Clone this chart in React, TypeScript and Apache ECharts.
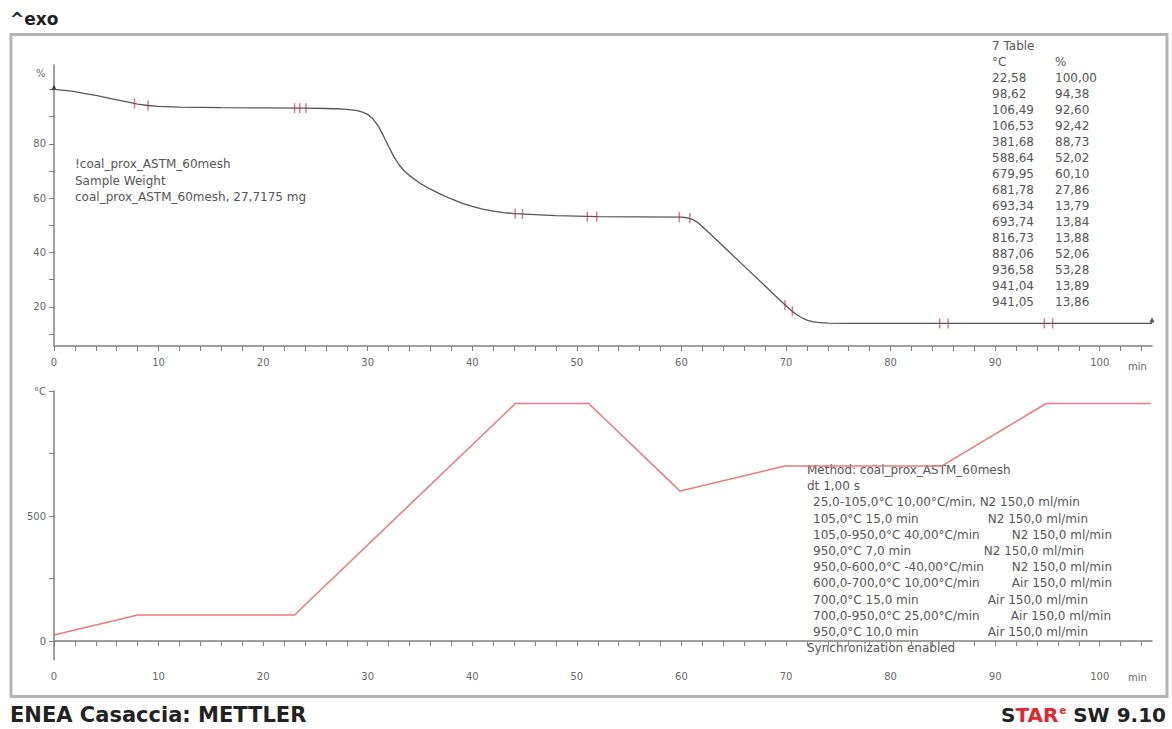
import React, { useEffect, useRef } from "react";
import * as echarts from "echarts";

// ---- data ----
const weightTime = [0, 1, 2, 3, 4, 5, 6, 7, 8, 9, 10, 12, 16, 20, 24, 26, 27, 28, 28.5, 29, 29.5, 30, 30.5, 31, 31.5, 32, 32.5, 33, 33.5, 34, 35, 36, 37, 38, 39, 40, 41, 42, 43, 44, 48, 52, 56, 60, 60.5, 61, 61.5, 62, 64, 66, 68, 69, 70, 70.5, 71, 71.5, 72, 72.5, 73, 74, 76, 85, 95, 105];
const weightPct = [100, 99.7, 99.2, 98.5, 97.8, 97.0, 96.2, 95.4, 94.6, 94.1, 93.8, 93.5, 93.3, 93.2, 93.1, 93.0, 92.9, 92.7, 92.5, 92.2, 91.7, 90.8, 89.2, 86.6, 83.0, 79.0, 75.3, 72.3, 70.0, 68.3, 65.5, 63.3, 61.4, 59.7, 58.2, 57.0, 56.0, 55.2, 54.7, 54.3, 53.6, 53.2, 53.1, 53.0, 52.8, 52.3, 51.2, 49.6, 42.3, 35.0, 27.7, 24.0, 20.4, 18.7, 17.2, 16.0, 15.1, 14.6, 14.3, 14.05, 13.95, 13.9, 13.9, 13.9];

const tempTime = [0, 8, 23, 44.125, 51.125, 59.875, 69.875, 84.875, 94.875, 104.875];
const tempC = [25, 105, 105, 950, 950, 600, 700, 700, 950, 950];

const markerTime = [7.7, 9.0, 23.0, 23.5, 24.1, 44.1, 44.8, 51.0, 51.9, 59.8, 60.8, 69.9, 70.6, 84.7, 85.5, 94.7, 95.5];
const markerPct = [94.8, 94.1, 93.1, 93.1, 93.1, 54.3, 54.2, 53.2, 53.2, 53.0, 52.7, 20.7, 18.4, 13.9, 13.9, 13.9, 13.9];

const endTime = [0, 105];
const endPct = [100.8, 15.2];

const tableTitle = "7 Table";
const tableHead = ["°C", "%"];
const tableTemp = ["22,58", "98,62", "106,49", "106,53", "381,68", "588,64", "679,95", "681,78", "693,34", "693,74", "816,73", "887,06", "936,58", "941,04", "941,05"];
const tablePct = ["100,00", "94,38", "92,60", "92,42", "88,73", "52,02", "60,10", "27,86", "13,79", "13,84", "13,88", "52,06", "53,28", "13,89", "13,86"];

const sampleLines = ["!coal_prox_ASTM_60mesh", "Sample Weight", "coal_prox_ASTM_60mesh, 27,7175 mg"];

const methodTop = ["Method: coal_prox_ASTM_60mesh", "dt 1,00 s"];
const methodSteps = [
  "25,0-105,0°C 10,00°C/min, N2 150,0 ml/min",
  "105,0°C 15,0 min",
  "105,0-950,0°C 40,00°C/min",
  "950,0°C 7,0 min",
  "950,0-600,0°C -40,00°C/min",
  "600,0-700,0°C 10,00°C/min",
  "700,0°C 15,0 min",
  "700,0-950,0°C 25,00°C/min",
  "950,0°C 10,0 min",
];
const methodGas = ["", "N2 150,0 ml/min", "N2 150,0 ml/min", "N2 150,0 ml/min", "N2 150,0 ml/min", "Air 150,0 ml/min", "Air 150,0 ml/min", "Air 150,0 ml/min", "Air 150,0 ml/min"];
const methodEnd = "Synchronization enabled";

const timeLabels = [0, 10, 20, 30, 40, 50, 60, 70, 80, 90, 100];
const timeTicks = [0, 2, 4, 6, 8, 10, 12, 14, 16, 18, 20, 22, 24, 26, 28, 30, 32, 34, 36, 38, 40, 42, 44, 46, 48, 50, 52, 54, 56, 58, 60, 62, 64, 66, 68, 70, 72, 74, 76, 78, 80, 82, 84, 86, 88, 90, 92, 94, 96, 98, 100, 102, 104];
const pctTicks = [10, 20, 30, 40, 50, 60, 70, 80, 90, 100];
const pctLabels = [20, 40, 60, 80];
const tempTicks = [0, 250, 500, 750, 1000];
const tempLabels = [0, 500, 1000];

// ---- layout / style ----
const FONT = "DejaVu Sans";
const TXT = "#555";
const gasRight = [0, 1088, 1112, 1084, 1112, 1112, 1088, 1111, 1088];

export default function App() {
  const ref = useRef<HTMLDivElement>(null);
  useEffect(() => {
    if (!ref.current) return;
    const chart = echarts.init(ref.current, undefined, { renderer: "svg" });
    const axisLine = { show: true, lineStyle: { color: "#808080", width: 1.5 } };
    const xAxisBase = (gridIndex: number) => ({
      type: "value",
      gridIndex,
      min: 0,
      max: 105,
      interval: 10,
      axisLine,
      axisTick: { show: true, length: 5, customValues: timeTicks, lineStyle: { color: "#808080" } },
      axisLabel: { customValues: timeLabels, color: "#666", fontSize: 10, fontFamily: FONT, margin: 11 },
      splitLine: { show: false },
    });
    const txt = (x: number, y: number, text: string, extra: any = {}) => ({
      type: "text",
      x,
      y,
      silent: true,
      style: { text, fill: TXT, font: `12px "${FONT}"`, textVerticalAlign: "middle", ...extra },
    });
    const graphics: any[] = [
      { type: "rect", shape: { x: 11, y: 34.5, width: 1156, height: 662 }, style: { fill: "none", stroke: "#b4b4b4", lineWidth: 3 }, silent: true },
      txt(10, 19, "^exo", { fill: "#222", font: `bold 17px "${FONT}"` }),
      txt(10, 715, "ENEA Casaccia: METTLER", { fill: "#222", font: `bold 21px "${FONT}"` }),
      {
        type: "text",
        x: 1166,
        y: 715,
        silent: true,
        style: {
          text: "{a|S}{b|TAR}{c|e}{a| SW 9.10}",
          textAlign: "right",
          textVerticalAlign: "middle",
          rich: {
            a: { fill: "#222", font: `bold 20px "${FONT}"` },
            b: { fill: "#e0282e", font: `bold 20px "${FONT}"` },
            c: { fill: "#e0282e", font: `bold 10px "${FONT}"`, verticalAlign: "top", padding: [0, 0, 10, 1] },
          },
        },
      },
      txt(36, 73, "%", { fill: "#666", font: `10px "${FONT}"` }),
      txt(1128, 366, "min", { fill: "#666", font: `10px "${FONT}"` }),
      txt(1128, 677, "min", { fill: "#666", font: `10px "${FONT}"` }),
      txt(992, 46, tableTitle),
      txt(992, 62, tableHead[0]),
      txt(1055, 62, tableHead[1]),
    ];
    tableTemp.forEach((t, i) => {
      graphics.push(txt(992, 78 + i * 16, t));
      graphics.push(txt(1055, 78 + i * 16, tablePct[i]));
    });
    sampleLines.forEach((s, i) => graphics.push(txt(75, 164 + i * 16.5, s)));
    methodTop.forEach((s, i) => graphics.push(txt(807, 470 + i * 16.2, s)));
    methodSteps.forEach((s, i) => {
      const y = 470 + (i + 2) * 16.2;
      graphics.push(txt(813, y, s));
      if (methodGas[i]) graphics.push(txt(gasRight[i], y, methodGas[i], { textAlign: "right" }));
    });
    graphics.push(txt(807, 470 + 11 * 16.2, methodEnd));

    chart.setOption({
      animation: false,
      backgroundColor: "#fff",
      textStyle: { fontFamily: FONT },
      grid: [
        { left: 54, top: 65, width: 1098, height: 281 },
        { left: 54, top: 391, width: 1098, height: 269 },
      ],
      xAxis: [xAxisBase(0), xAxisBase(1)],
      yAxis: [
        {
          type: "value",
          gridIndex: 0,
          min: 5.6,
          max: 109,
          axisLine,
          axisTick: { show: true, length: 5, customValues: pctTicks, lineStyle: { color: "#808080" } },
          axisLabel: { customValues: pctLabels, color: "#666", fontSize: 10, fontFamily: FONT, margin: 8 },
          splitLine: { show: false },
        },
        {
          type: "value",
          gridIndex: 1,
          min: -75,
          max: 1000,
          axisLine,
          axisTick: { show: true, length: 5, customValues: tempTicks, lineStyle: { color: "#808080" } },
          axisLabel: {
            customValues: tempLabels,
            color: "#666",
            fontSize: 10,
            fontFamily: FONT,
            margin: 8,
            formatter: (v: number) => (v === 1000 ? "°C" : String(v)),
          },
          splitLine: { show: false },
        },
      ],
      series: [
        {
          type: "line",
          xAxisIndex: 0,
          yAxisIndex: 0,
          data: weightTime.map((t, i) => [t, weightPct[i]]),
          showSymbol: false,
          lineStyle: { color: "#555", width: 1.3 },
          silent: true,
        },
        {
          type: "scatter",
          xAxisIndex: 0,
          yAxisIndex: 0,
          data: markerTime.map((t, i) => [t, markerPct[i]]),
          symbol: "rect",
          symbolSize: [1.5, 10],
          itemStyle: { color: "#e8506a" },
          silent: true,
        },
        {
          type: "scatter",
          xAxisIndex: 0,
          yAxisIndex: 0,
          data: endTime.map((t, i) => [t, endPct[i]]),
          symbol: "triangle",
          symbolSize: 5,
          itemStyle: { color: "#222" },
          silent: true,
        },
        {
          type: "line",
          xAxisIndex: 1,
          yAxisIndex: 1,
          data: tempTime.map((t, i) => [t, tempC[i]]),
          showSymbol: false,
          lineStyle: { color: "#f07878", width: 1.5 },
          silent: true,
        },
      ],
      graphic: graphics,
    });
    return () => chart.dispose();
  }, []);
  return <div ref={ref} style={{ position: "fixed", left: 0, top: 0, width: 1172, height: 729 }} />;
}
